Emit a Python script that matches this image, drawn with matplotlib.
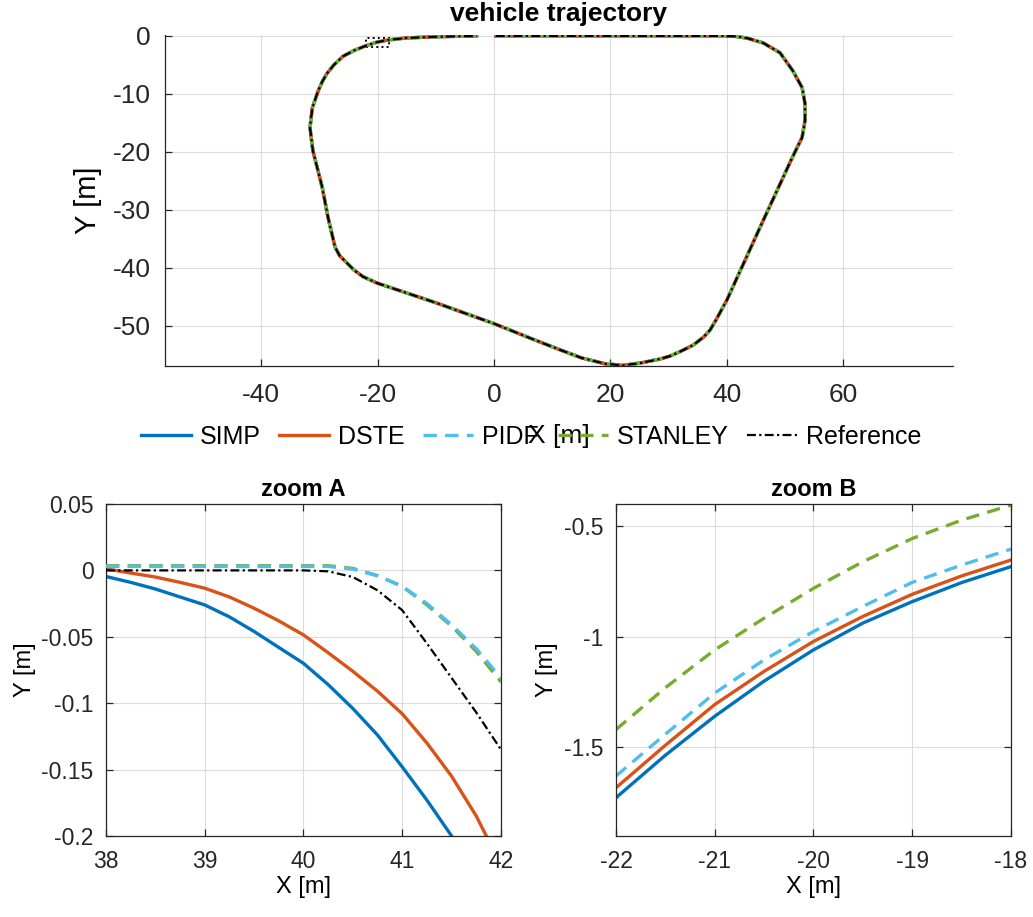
import matplotlib
matplotlib.use('Agg')
import matplotlib.pyplot as plt
from matplotlib.patches import Rectangle

plt.rcParams['font.family'] = ['Liberation Sans', 'DejaVu Sans']
plt.rcParams['axes.unicode_minus'] = False

# --- data ---
names = ['SIMP', 'DSTE', 'PIDF', 'STANLEY', 'Reference']
colors = ['#0072BD', '#D95319', '#4DBEEE', '#77AC30', 'k']

# full loop (all controllers overlap at this scale)
traj_x = [0.3, 10, 20, 30, 38, 40, 41.7, 43.5, 46.2, 49.1, 51.3, 52.9, 53.4, 53.4,
          52.9, 51.2, 46, 40, 38.1, 37.1, 36, 34.2, 32, 30.2, 28.5, 25.1, 22.1, 19,
          15, 11.3, 6.2, 0, -10, -20.1, -22.5, -24, -25.2, -26.5, -27.3, -28.5,
          -29.5, -31.1, -31.6, -31.2, -30.2, -29.5, -28.7, -27.5, -25.9, -24,
          -22, -20, -18, -15, -10, -3]
traj_y = [0, 0, 0, 0, 0, -0.01, -0.1, -0.4, -1.2, -2.9, -6, -8.9, -11.7, -14.6,
          -17.5, -21, -32.3, -45.5, -49, -50.7, -51.9, -53.3, -54.4, -55.2, -55.7,
          -56.4, -56.8, -56.5, -55.5, -54.1, -52.1, -49.6, -46, -42.6, -41.5,
          -40.4, -39.2, -37.9, -36.4, -31.3, -26.1, -19.8, -15.8, -12.4, -9.5,
          -7.9, -6.5, -5.0, -3.5, -2.5, -1.7, -1.05, -0.68, -0.35, -0.15, 0]

# zoom A
za_x = [38, 38.25, 38.5, 38.75, 39, 39.25, 39.5, 39.75, 40, 40.25, 40.5, 40.75,
        41, 41.25, 41.5, 41.75, 42]
za_simp = [-0.0046, -0.009, -0.014, -0.020, -0.026, -0.035, -0.046, -0.058, -0.070,
           -0.086, -0.104, -0.124, -0.148, -0.173, -0.200, -0.228, -0.262]
za_dste = [0.0012, -0.002, -0.005, -0.009, -0.0134, -0.020, -0.0285, -0.038, -0.0486,
           -0.062, -0.076, -0.091, -0.108, -0.130, -0.155, -0.185, -0.222]
za_pidf = [0.003, 0.003, 0.003, 0.003, 0.003, 0.003, 0.003, 0.003, 0.003, 0.003,
           0.001, -0.004, -0.012, -0.025, -0.041, -0.059, -0.081]
za_stan = [0.0035, 0.0035, 0.0035, 0.0035, 0.0035, 0.0035, 0.0035, 0.0035, 0.0035,
           0.0035, 0.0015, -0.004, -0.012, -0.026, -0.042, -0.061, -0.084]
za_ref = [0, 0, 0, 0, 0, 0, 0, 0, 0, -0.0007, -0.005, -0.015, -0.030, -0.055,
          -0.081, -0.107, -0.135]

# zoom B
zb_x = [-22, -21.5, -21, -20.5, -20, -19.5, -19, -18.5, -18]
zb_simp = [-1.727, -1.535, -1.359, -1.20, -1.059, -0.938, -0.841, -0.755, -0.683]
zb_dste = [-1.682, -1.49, -1.306, -1.156, -1.021, -0.908, -0.808, -0.725, -0.653]
zb_pidf = [-1.629, -1.44, -1.254, -1.104, -0.976, -0.863, -0.754, -0.676, -0.604]
zb_stan = [-1.419, -1.23, -1.059, -0.916, -0.781, -0.661, -0.556, -0.473, -0.405]

styles = ['-', '-', (0, (4, 2.5)), (0, (4, 2.5)), (0, (4, 1.5, 1, 1.5))]
widths = [2.4, 2.4, 2.4, 2.4, 1.6]
gridc = '#dcdcdc'
axc = '#262626'

fig = plt.figure(figsize=(10.33, 9.17), dpi=100)


def style_axes(ax, fs, xpad, ypad, box=True):
    ax.grid(True, color=gridc, lw=0.8)
    ax.set_axisbelow(True)
    for s in ax.spines.values():
        s.set_color(axc)
        s.set_linewidth(0.9)
    if not box:
        ax.spines['top'].set_visible(False)
        ax.spines['right'].set_visible(False)
    ax.tick_params(direction='in', length=5, width=0.9, colors=axc,
                   labelsize=fs, top=box, right=box, labelcolor=axc)
    ax.tick_params(axis='x', pad=xpad)
    ax.tick_params(axis='y', pad=ypad)


# top: full trajectory
ax = fig.add_axes([0.1597, 0.6009, 0.7628, 0.3609])
for i in range(5):
    ax.plot(traj_x, traj_y, color=colors[i], ls=styles[i], lw=widths[i], label=names[i])
ax.add_patch(Rectangle((38, -0.2), 4, 0.25, fill=False, ls=':', lw=1.4, ec='k'))
ax.add_patch(Rectangle((-22, -1.9), 4, 1.5, fill=False, ls=':', lw=1.4, ec='k'))
ax.set_xlim(-56.5, 78.8)
ax.set_ylim(-56.9, 0.15)
ax.set_xticks([-40, -20, 0, 20, 40, 60])
ax.set_yticks([0, -10, -20, -30, -40, -50])
style_axes(ax, 19, 12, 10, box=False)
ax.set_title('vehicle trajectory', fontsize=19, fontweight='bold', pad=10)
ax.set_xlabel('X [m]', fontsize=19)
ax.xaxis.set_label_coords(0.5, -0.175)
ax.set_ylabel('Y [m]', fontsize=21)
ax.yaxis.set_label_coords(-0.08, 0.5)
ax.legend(loc='center', bbox_to_anchor=(0.514, 0.5234), bbox_transform=fig.transFigure,
          ncol=5, frameon=False, fontsize=18, handlelength=2.0, handletextpad=0.35,
          columnspacing=0.75)

# zoom A
axa = fig.add_axes([0.1026, 0.0883, 0.3824, 0.3621])
za_series = [za_simp, za_dste, za_pidf, za_stan, za_ref]
zorders = [2, 2, 4, 3, 5]
for i in range(5):
    axa.plot(za_x, za_series[i], color=colors[i], ls=styles[i], lw=widths[i],
             zorder=zorders[i])
axa.set_xlim(38, 42)
axa.set_ylim(-0.2, 0.05)
axa.set_xticks([38, 39, 40, 41, 42])
axa.set_yticks([0.05, 0, -0.05, -0.1, -0.15, -0.2])
axa.set_yticklabels(['0.05', '0', '-0.05', '-0.1', '-0.15', '-0.2'])
style_axes(axa, 16.5, 10, 9)
axa.set_title('zoom A', fontsize=17, fontweight='bold', pad=6)
axa.set_xlabel('X [m]', fontsize=17, labelpad=2)
axa.set_ylabel('Y [m]', fontsize=17)

# zoom B
axb = fig.add_axes([0.5963, 0.0883, 0.3824, 0.3621])
zb_series = [zb_simp, zb_dste, zb_pidf, zb_stan]
for i in range(4):
    axb.plot(zb_x, zb_series[i], color=colors[i], ls=styles[i], lw=widths[i])
axb.set_xlim(-22, -18)
axb.set_ylim(-1.9, -0.4)
axb.set_xticks([-22, -21, -20, -19, -18])
axb.set_yticks([-0.5, -1, -1.5])
axb.set_yticklabels(['-0.5', '-1', '-1.5'])
style_axes(axb, 16.5, 10, 9)
axb.set_title('zoom B', fontsize=17, fontweight='bold', pad=6)
axb.set_xlabel('X [m]', fontsize=17, labelpad=2)
axb.set_ylabel('Y [m]', fontsize=17)

fig.savefig('out.png', dpi=100)
